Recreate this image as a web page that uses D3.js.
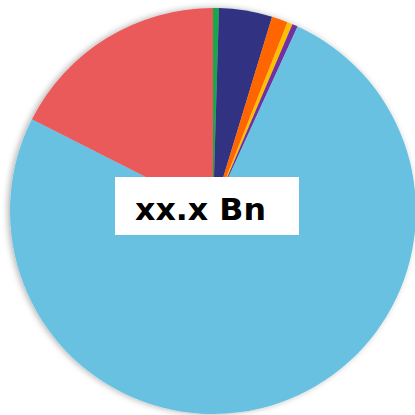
<!DOCTYPE html>
<html><head><meta charset="utf-8">
<script src="https://cdn.jsdelivr.net/npm/d3@7"></script>
<style>html,body{margin:0;padding:0;background:#fff;overflow:hidden}</style>
</head><body><svg id="c" width="415" height="415"></svg>
<script>
const categories = ["A","B","C","D","E","F","G"];
const values = [0.47, 4.23, 1.28, 0.42, 0.44, 75.63, 17.53];
const colors = ["#14a84b","#333383","#ff6600","#ffbf00","#7030a0","#68c1e1","#eb5a5a"];
const labelText = "xx.x Bn";

const svg = d3.select("#c");
const defs = svg.append("defs");
const f = defs.append("filter").attr("id","sh").attr("x","-20%").attr("y","-20%").attr("width","140%").attr("height","140%");
f.append("feDropShadow").attr("dx",-2).attr("dy",0).attr("stdDeviation",3).attr("flood-color","#000").attr("flood-opacity",0.3);

const cx = 213, cy = 211, r = 203;
const pie = d3.pie().sort(null).value(d => d)(values);
const arc = d3.arc().innerRadius(0).outerRadius(r);
const g = svg.append("g").attr("transform",`translate(${cx},${cy})`).attr("filter","url(#sh)");
g.selectAll("path").data(pie).join("path")
  .attr("d", arc).attr("fill",(d,i)=>colors[i]);

svg.append("rect").attr("x",115).attr("y",177).attr("width",184).attr("height",58).attr("fill","#fff");
svg.append("text").attr("x",135).attr("y",220)
  .attr("font-family","DejaVu Sans").attr("font-weight","bold").attr("font-size",31)
  .attr("textLength",131).attr("lengthAdjust","spacingAndGlyphs")
  .attr("fill","#000").text(labelText);
</script></body></html>
